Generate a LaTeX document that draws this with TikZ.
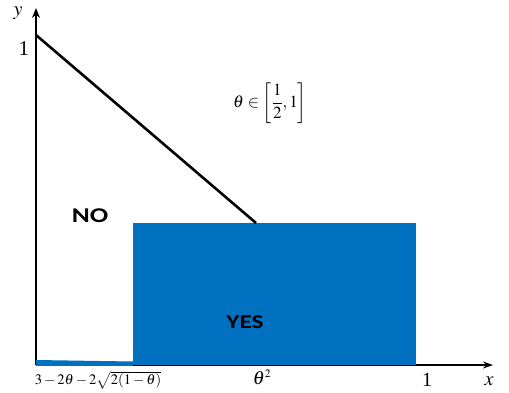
\documentclass[tikz,border=0pt]{standalone}
\usepackage{amsmath}
\usepackage{mathptmx}
\usepackage[no-math]{fontspec}
\setmainfont{Liberation Serif}
\newfontfamily\regionfont{Carlito}
\usetikzlibrary{arrows.meta,positioning}
\definecolor{yesBlue}{RGB}{0,112,192}
\newcommand{\widetext}[1]{\scalebox{1.3}[1]{#1}}

\begin{document}
\begin{tikzpicture}[x=1pt,y=-1pt]
\useasboundingbox (0,0) rectangle (509,392);
\coordinate (O) at (36,365);
\coordinate (ytop) at (36,8);
\coordinate (xend) at (493,365);
\coordinate (yone) at (36,35);
\coordinate (corner) at (256,223);
\draw[line width=1.6pt, -{Stealth[length=10pt,width=7pt]}] (O) -- (xend);
\draw[line width=2.6pt, -{Stealth[length=10pt,width=8pt]}] (O) -- (ytop);
\fill[yesBlue] (133,223) rectangle (416,364.5);
\fill[yesBlue] (36,360) -- (133,361.5) -- (133,365.8) -- (36,365.8) -- cycle;
\draw[line width=2.6pt] (yone) -- (corner);
\node (ylabel) at (18,13) {\fontsize{20}{24}\selectfont $y$};
\node (yonelabel) at (24,49) {\fontsize{21}{24}\selectfont 1};
\node (range) at (270,103) {\fontsize{17}{20}\selectfont $\theta\in\left[\dfrac{1}{2},1\right]$};
\node (no) at (90,216) {\regionfont\bfseries\fontsize{21}{24}\selectfont\widetext{NO}};
\node (yes) at (245,322) {\regionfont\bfseries\fontsize{19.5}{24}\selectfont\widetext{YES}};
\node (low) at (98,380) {\fontsize{14.5}{16}\selectfont $3-2\theta-2\sqrt{2(1-\theta)}$};
\node (sq) at (262,377) {\fontsize{19}{22}\selectfont $\theta^{\scriptscriptstyle 2}$};
\node (xone) at (427,380) {\fontsize{20}{24}\selectfont 1};
\node (xlabel) at (489,381) {\fontsize{20}{24}\selectfont $x$};
\end{tikzpicture}
\end{document}
